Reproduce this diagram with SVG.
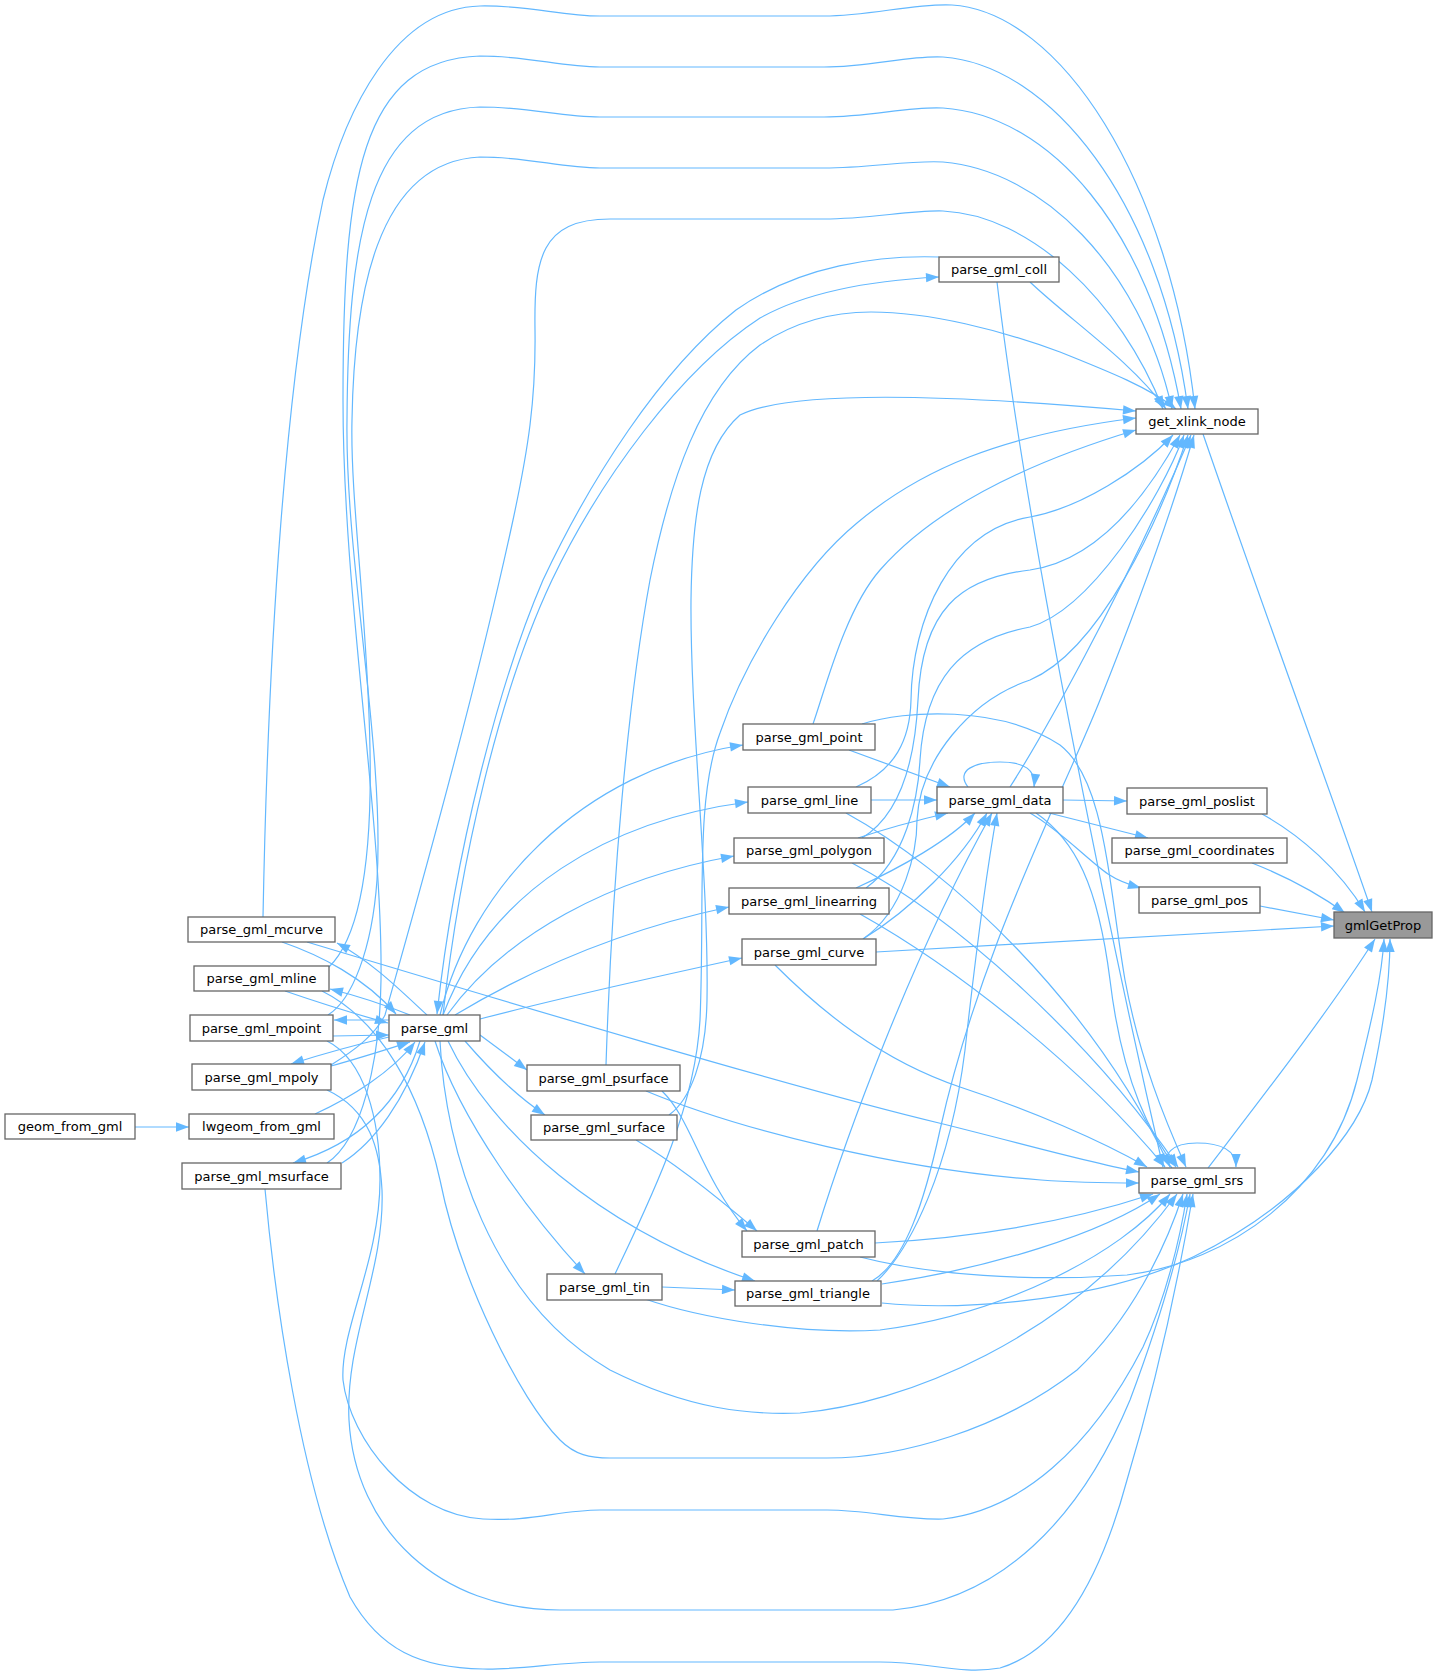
<svg xmlns="http://www.w3.org/2000/svg" width="1436" height="1679" viewBox="0 0 1436 1679">
<style>
.e{fill:none;stroke:#63b8ff;stroke-width:1.2;marker-end:url(#a)}
.n{fill:#fff;stroke:#666;stroke-width:1.3}
.f{fill:#999;stroke:#666;stroke-width:1.3}
.t{font-family:'DejaVu Sans',sans-serif;font-size:13px;text-anchor:middle;fill:#000}
</style>
<defs>
<marker id="a" markerUnits="userSpaceOnUse" markerWidth="14" markerHeight="10" viewBox="0 0 13 10" refX="13" refY="5" orient="auto">
<path d="M0,0.3 L13,5 L0,9.7 Z" fill="#63b8ff"/>
</marker>
</defs>
<rect width="1436" height="1679" fill="#fff"/>
<g id="edges">
<path class="e" d="M135,1127 L189,1127"/>
<path class="e" d="M315,1114 C350,1098 392,1072 415,1042"/>
<path class="e" d="M282,942 C320,955 365,978 396,1014"/>
<path class="e" d="M427,1015 C400,990 372,962 337,943"/>
<path class="e" d="M285,991 C320,1003 355,1014 388,1023"/>
<path class="e" d="M410,1015 C385,1005 358,996 330,989"/>
<path class="e" d="M333,1036 L389,1035"/>
<path class="e" d="M389,1020 L334,1020"/>
<path class="e" d="M331,1066 C360,1058 388,1049 410,1042"/>
<path class="e" d="M389,1037 C355,1045 322,1054 291,1064"/>
<path class="e" d="M342,1163 C375,1142 405,1100 425,1042"/>
<path class="e" d="M420,1041 C405,1090 370,1140 293,1163"/>
<path class="e" d="M939,257 C880,255 800,265 736,310 C660,370 590,480 543,580 C500,680 455,850 437,1014"/>
<path class="e" d="M443,1015 C460,860 500,690 552,580 C600,480 680,370 760,318 C810,290 880,280 939,277"/>
<path class="e" d="M440,1015 C470,890 580,770 743,745"/>
<path class="e" d="M443,1015 C490,890 610,820 748,802"/>
<path class="e" d="M447,1015 C505,935 610,878 734,856"/>
<path class="e" d="M455,1015 C530,970 620,930 729,907"/>
<path class="e" d="M480,1019 C560,998 650,978 742,958"/>
<path class="e" d="M480,1035 L527,1070"/>
<path class="e" d="M465,1041 C490,1070 515,1095 545,1115"/>
<path class="e" d="M435,1041 C460,1120 530,1215 585,1274"/>
<path class="e" d="M448,1041 C490,1130 600,1230 755,1281"/>
<path class="e" d="M662,1091 C692,1120 700,1175 747,1231"/>
<path class="e" d="M636,1140 C670,1160 715,1195 757,1231"/>
<path class="e" d="M662,1287 L735,1290"/>
<path class="e" d="M849,750 L950,787"/>
<path class="e" d="M871,800 L937,800"/>
<path class="e" d="M858,838 C885,829 918,820 948,813"/>
<path class="e" d="M856,888 C900,868 950,840 975,813"/>
<path class="e" d="M863,939 C910,910 962,860 987,813"/>
<path class="e" d="M817,1231 C845,1140 910,960 992,813"/>
<path class="e" d="M877,1281 C910,1250 950,1170 965,1050 C975,960 985,880 997,813"/>
<path class="e" d="M968,787 C955,770 975,762 1000,762 C1025,762 1036,770 1034,787"/>
<path class="e" d="M1063,800 L1127,801"/>
<path class="e" d="M1049,813 L1148,838"/>
<path class="e" d="M1030,813 C1060,830 1090,862 1108,874 C1120,882 1130,885 1141,888"/>
<path class="e" d="M1036,813 C1075,840 1098,885 1110,980 C1122,1080 1150,1135 1176,1167"/>
<path class="e" d="M862,724 C905,710 1000,705 1060,745 C1105,780 1108,880 1125,980 C1140,1060 1165,1120 1186,1167"/>
<path class="e" d="M846,813 C950,870 1090,1000 1170,1167"/>
<path class="e" d="M852,863 C960,920 1095,1045 1178,1167"/>
<path class="e" d="M860,914 C960,970 1085,1070 1165,1167"/>
<path class="e" d="M775,965 C820,1010 880,1060 960,1087 C1030,1110 1100,1140 1147,1167"/>
<path class="e" d="M997,282 C1030,560 1120,980 1163,1167"/>
<path class="e" d="M646,1091 C740,1130 900,1170 1041,1180 C1080,1183 1110,1183 1139,1183"/>
<path class="e" d="M307,942 C500,1000 800,1090 939,1123 C1020,1143 1090,1163 1139,1172"/>
<path class="e" d="M875,1243 C990,1237 1080,1218 1153,1194"/>
<path class="e" d="M882,1284 C990,1268 1100,1235 1160,1194"/>
<path class="e" d="M645,1299 C700,1318 800,1335 880,1330 C1000,1315 1120,1255 1170,1194"/>
<path class="e" d="M440,1041 C445,1150 490,1300 610,1370 C690,1410 750,1415 800,1413 C900,1405 1070,1340 1177,1194"/>
<path class="e" d="M322,991 C380,1020 420,1090 440,1180 C460,1280 520,1400 560,1440 C575,1455 590,1458 610,1458 L827,1458 C900,1458 1000,1430 1077,1370 C1130,1320 1165,1250 1183,1194"/>
<path class="e" d="M327,1041 C365,1060 380,1120 380,1180 C380,1260 340,1330 343,1380 C350,1440 410,1515 483,1519 C530,1522 560,1510 600,1510 L827,1510 C870,1510 900,1520 943,1519 C1020,1510 1090,1450 1143,1347 C1165,1300 1180,1240 1187,1194"/>
<path class="e" d="M327,1090 C370,1110 380,1150 382,1190 C385,1270 345,1340 349,1420 C355,1530 440,1610 560,1610 L893,1610 C1000,1600 1080,1520 1130,1400 C1160,1320 1180,1250 1190,1194"/>
<path class="e" d="M265,1189 C275,1300 300,1480 350,1597 C380,1650 420,1668 483,1669 C520,1670 560,1662 600,1662 L880,1662 C930,1662 960,1675 1000,1668 C1060,1650 1100,1580 1127,1480 C1160,1370 1180,1270 1193,1194"/>
<path class="e" d="M1172,1168 C1160,1155 1172,1143 1197,1143 C1220,1143 1236,1150 1236,1167"/>
<path class="e" d="M1208,1168 C1260,1100 1330,1010 1375,939"/>
<path class="e" d="M860,1257 C930,1275 1030,1282 1127,1275 C1230,1262 1330,1190 1357,1080 C1372,1020 1382,975 1384,939"/>
<path class="e" d="M882,1303 C950,1310 1090,1305 1193,1257 C1300,1205 1360,1130 1372,1080 C1385,1020 1390,975 1390,939"/>
<path class="e" d="M1203,434 C1260,600 1330,790 1372,912"/>
<path class="e" d="M1262,814 C1300,835 1340,870 1365,912"/>
<path class="e" d="M1252,863 C1290,878 1320,895 1345,913"/>
<path class="e" d="M1260,906 L1334,920"/>
<path class="e" d="M876,952 L1334,926"/>
<path class="e" d="M263,917 C268,650 285,380 323,200 C345,110 395,8 480,6 C530,5 560,16 600,16 L824,16 C870,16 915,3 952,5 C1060,12 1170,180 1195,409"/>
<path class="e" d="M327,1163 C362,1140 380,1060 381,980 C383,820 343,600 343,400 C343,180 360,60 480,56 C530,56 560,67 600,67 L824,67 C870,67 910,55 943,57 C1050,65 1160,200 1188,409"/>
<path class="e" d="M328,1015 C352,1000 372,950 377,880 C385,750 345,560 347,420 C348,240 368,110 480,107 C530,107 560,117 600,117 L824,117 C870,117 910,106 943,108 C1050,115 1150,230 1181,409"/>
<path class="e" d="M329,967 C362,935 372,850 370,750 C368,620 350,500 352,420 C354,300 375,162 480,157 C530,157 560,168 600,168 L824,168 C870,168 910,160 943,162 C1040,170 1140,265 1172,409"/>
<path class="e" d="M331,1065 C355,1050 375,1035 385,1015 C400,960 470,720 513,520 C528,450 536,400 535,330 C534,260 540,219 610,219 L824,219 C870,219 910,210 943,211 C1030,215 1120,300 1163,409"/>
<path class="e" d="M1030,282 C1070,320 1130,360 1166,409"/>
<path class="e" d="M606,1065 C612,880 628,700 650,580 C670,480 700,390 760,345 C800,318 840,312 871,312 C930,312 1000,330 1060,352 C1110,372 1150,388 1176,409"/>
<path class="e" d="M669,1115 C690,1100 706,1060 707,1000 C709,880 690,720 691,600 C692,520 700,450 740,415 C780,395 900,390 1136,411"/>
<path class="e" d="M615,1274 C650,1200 695,1110 700,1020 C705,900 695,800 720,733 C745,660 800,570 857,523 C920,470 1000,435 1136,418"/>
<path class="e" d="M813,724 C825,690 845,610 880,570 C930,513 1013,467 1136,430"/>
<path class="e" d="M856,787 C895,770 910,740 911,700 C912,620 950,530 1030,517 C1080,508 1140,470 1173,435"/>
<path class="e" d="M862,838 C900,815 915,760 918,700 C922,610 960,578 1030,570 C1100,560 1150,490 1180,435"/>
<path class="e" d="M866,888 C905,860 918,800 920,760 C925,680 960,640 1030,627 C1090,610 1160,500 1184,435"/>
<path class="e" d="M863,939 C905,910 917,850 917,820 C920,760 970,700 1030,680 C1100,650 1160,520 1188,435"/>
<path class="e" d="M1010,787 C1040,740 1120,600 1191,435"/>
<path class="e" d="M872,1281 C905,1262 925,1200 940,1130 C980,950 1060,800 1100,700 C1140,600 1175,500 1194,435"/>
</g>
<g id="node-gmlGetProp"><rect class="f" x="1334" y="912" width="98" height="26"/><text class="t" x="1383" y="929.5">gmlGetProp</text></g>
<g id="node-get_xlink_node"><rect class="n" x="1136" y="409" width="122" height="25"/><text class="t" x="1197" y="426">get_xlink_node</text></g>
<g id="node-parse_gml_coll"><rect class="n" x="939" y="257" width="120" height="25"/><text class="t" x="999" y="274">parse_gml_coll</text></g>
<g id="node-parse_gml_point"><rect class="n" x="743" y="724" width="132" height="26"/><text class="t" x="809" y="741.5">parse_gml_point</text></g>
<g id="node-parse_gml_data"><rect class="n" x="937" y="787" width="126" height="26"/><text class="t" x="1000" y="804.5">parse_gml_data</text></g>
<g id="node-parse_gml_poslist"><rect class="n" x="1127" y="788" width="140" height="26"/><text class="t" x="1197" y="805.5">parse_gml_poslist</text></g>
<g id="node-parse_gml_line"><rect class="n" x="748" y="787" width="123" height="26"/><text class="t" x="809.5" y="804.5">parse_gml_line</text></g>
<g id="node-parse_gml_coordinates"><rect class="n" x="1112" y="838" width="175" height="25"/><text class="t" x="1199.5" y="855">parse_gml_coordinates</text></g>
<g id="node-parse_gml_polygon"><rect class="n" x="734" y="838" width="150" height="25"/><text class="t" x="809" y="855">parse_gml_polygon</text></g>
<g id="node-parse_gml_pos"><rect class="n" x="1139" y="887" width="121" height="26"/><text class="t" x="1199.5" y="904.5">parse_gml_pos</text></g>
<g id="node-parse_gml_linearring"><rect class="n" x="729" y="888" width="160" height="26"/><text class="t" x="809" y="905.5">parse_gml_linearring</text></g>
<g id="node-parse_gml_curve"><rect class="n" x="742" y="939" width="134" height="26"/><text class="t" x="809" y="956.5">parse_gml_curve</text></g>
<g id="node-parse_gml_mcurve"><rect class="n" x="188" y="917" width="147" height="25"/><text class="t" x="261.5" y="934">parse_gml_mcurve</text></g>
<g id="node-parse_gml_mline"><rect class="n" x="194" y="966" width="135" height="25"/><text class="t" x="261.5" y="983">parse_gml_mline</text></g>
<g id="node-parse_gml_mpoint"><rect class="n" x="190" y="1015" width="143" height="26"/><text class="t" x="261.5" y="1032.5">parse_gml_mpoint</text></g>
<g id="node-parse_gml"><rect class="n" x="389" y="1015" width="91" height="26"/><text class="t" x="434.5" y="1032.5">parse_gml</text></g>
<g id="node-parse_gml_mpoly"><rect class="n" x="192" y="1064" width="139" height="26"/><text class="t" x="261.5" y="1081.5">parse_gml_mpoly</text></g>
<g id="node-parse_gml_psurface"><rect class="n" x="527" y="1065" width="153" height="26"/><text class="t" x="603.5" y="1082.5">parse_gml_psurface</text></g>
<g id="node-geom_from_gml"><rect class="n" x="5" y="1114" width="130" height="25"/><text class="t" x="70" y="1131">geom_from_gml</text></g>
<g id="node-lwgeom_from_gml"><rect class="n" x="189" y="1114" width="145" height="25"/><text class="t" x="261.5" y="1131">lwgeom_from_gml</text></g>
<g id="node-parse_gml_surface"><rect class="n" x="531" y="1115" width="146" height="25"/><text class="t" x="604" y="1132">parse_gml_surface</text></g>
<g id="node-parse_gml_msurface"><rect class="n" x="182" y="1163" width="159" height="26"/><text class="t" x="261.5" y="1180.5">parse_gml_msurface</text></g>
<g id="node-parse_gml_srs"><rect class="n" x="1139" y="1168" width="116" height="25"/><text class="t" x="1197" y="1185">parse_gml_srs</text></g>
<g id="node-parse_gml_patch"><rect class="n" x="742" y="1231" width="133" height="26"/><text class="t" x="808.5" y="1248.5">parse_gml_patch</text></g>
<g id="node-parse_gml_tin"><rect class="n" x="547" y="1274" width="115" height="26"/><text class="t" x="604.5" y="1291.5">parse_gml_tin</text></g>
<g id="node-parse_gml_triangle"><rect class="n" x="735" y="1281" width="146" height="25"/><text class="t" x="808" y="1298">parse_gml_triangle</text></g>
</svg>
